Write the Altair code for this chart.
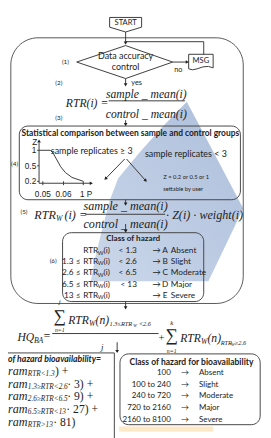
import altair as alt
import pandas as pd

# ---------------- content ----------------
hazard_prefix = ["", "1.3 ≤", "2.6 ≤", "6.5 ≤", "13 ≤"]
hazard_suffix = ["< 1.3", "< 2.6", "< 6.5", "<  13", ""]
hazard_letter = ["A", "B", "C", "D", "E"]
hazard_class = ["Absent", "Slight", "Moderate", "Major", "Severe"]
bio_range = ["100", "100 to  240", "240 to  720", "720 to 2160", "2160 to 8100"]
bio_sub = ["RTR<1.3", "1.3≥RTR<2.6", "2.6≥RTR<6.5", "6.5≥RTR<13", "RTR>13"]
bio_weight = [") +", "· 3) +", "· 9) +", "· 27) +", "· 81)"]
z_ticks = ["1", "0.5", "0.2"]
p_ticks = ["0.05", "0.06", "1 P"]

# ---------------- layout (diagram coordinates, px of the reference) ----------------
hz_y = [251, 262, 274, 286, 297]
bio_y = [378, 390, 402, 414, 426]
ram_y = [376, 389, 402, 415, 428]
ram_w_x = [50, 63, 63, 62, 48]
z_y = [148, 164, 180]
p_x = [37, 59, 83]

SANS = "Lato"
SERIF = "Liberation Serif"
ARIAL = "Liberation Sans"
INK = "#222222"
LINE = "#3a3a3a"

W, H = 263, 430
xs = alt.Scale(domain=[0, 271], nice=False, zero=False)
ys = alt.Scale(domain=[8, 438], nice=False, zero=False, reverse=True)


def X(f="x"):
    return alt.X(f"{f}:Q", scale=xs, axis=None)


def Y(f="y"):
    return alt.Y(f"{f}:Q", scale=ys, axis=None)


def txt(rows, size, font=SANS, align="center", weight="normal", style="normal", color=INK):
    df = pd.DataFrame(rows, columns=["t", "x", "y"])
    return alt.Chart(df).mark_text(
        font=font, fontSize=size, align=align, baseline="middle",
        fontWeight=weight, fontStyle=style, color=color
    ).encode(x=X(), y=Y(), text="t:N")


def boxes(rows, radius, color="#444444", sw=1.0):
    df = pd.DataFrame(rows, columns=["x", "y", "x2", "y2"])
    return alt.Chart(df).mark_rect(
        fill="transparent", stroke=color, strokeWidth=sw, cornerRadius=radius
    ).encode(x=X(), y=Y(), x2="x2:Q", y2="y2:Q")


# ---------------- background shapes ----------------
blue_x = [88, 93, 100, 108, 117, 140, 165, 190, 213, 250]
blue_top = [283, 257, 230, 200, 177, 150, 123, 98, 140, 208]
blue_bot = [283, 283, 283, 283, 283, 283, 283, 283, 283, 208]
blue = alt.Chart(pd.DataFrame({"x": blue_x, "y": blue_top, "y2": blue_bot})).mark_area(
    color=alt.Gradient(
        gradient="linear",
        stops=[alt.GradientStop(color="#a8bbd9", offset=0),
               alt.GradientStop(color="#c8d5e9", offset=1)],
        x1=1, x2=0, y1=0, y2=1),
    opacity=0.95, interpolate="linear"
).encode(x=X(), y=Y(), y2="y2:Q")

orange = alt.Chart(pd.DataFrame({"x": [118], "x2": [218], "y": [433], "y2": [438]})).mark_rect(
    color="#fde8c8"
).encode(x=X(), y=Y(), x2="x2:Q", y2="y2:Q")

# ---------------- boxes ----------------
big_box = boxes([(3, 32, 250, 306)], 28, "#555555")
mid_boxes = boxes([(12, 123, 247, 199), (58, 233, 208, 304), (119, 358, 268, 431)], 9)
sq_box = boxes([(-10, 357, 113, 460)], 0)

# ---------------- polylines ----------------
poly = []
def add_poly(name, pts):
    for i, (px, py) in enumerate(pts):
        poly.append({"id": name, "o": i, "x": px, "y": py})

add_poly("start", [(108, 11), (142, 11), (142, 21), (125, 26), (108, 21), (108, 11)])
add_poly("diamond", [(73, 57), (125, 40), (175, 57), (125, 74), (73, 57)])
add_poly("msg", [(192, 49), (218, 49), (218, 63), (213, 61.5), (207, 62), (201, 64),
                 (196, 65), (192, 64), (192, 49)])
add_poly("curve", [(33, 148), (45, 148), (48, 151), (52, 158), (56, 165), (61, 171),
                   (68, 176), (80, 180)])
polys = alt.Chart(pd.DataFrame(poly)).mark_line(color=LINE, strokeWidth=1).encode(
    x=X(), y=Y(), detail="id:N", order="o:Q")

# ---------------- straight segments ----------------
segs = [
    (125, 26, 125, 37), (125, 36, 208, 36), (208, 36, 208, 49),
    (175, 57, 190, 57), (125, 74, 125, 80), (125, 117, 125, 122),
    (124, 157, 104, 177), (126, 157, 146, 179),
    (33, 140, 33, 182), (33, 182, 88, 182),
    (31, 148, 33, 148), (31, 164, 33, 164), (31, 180, 33, 180),
    (37, 180, 37, 184), (59, 180, 59, 184), (80, 180, 80, 184),
    (125, 199, 125, 204), (125, 224, 125, 232),
    (107, 97, 188, 97), (82, 214, 167, 214), (47, 337, 160, 337),
    (125, 304, 125, 311), (116, 346, 116, 356),
]
rules = alt.Chart(pd.DataFrame(segs, columns=["x", "y", "x2", "y2"])).mark_rule(
    color=LINE, strokeWidth=1).encode(x=X(), y=Y(), x2="x2:Q", y2="y2:Q")

heads = [
    (125, 37, 180), (190, 57, 90), (125, 80, 180), (125, 121, 180),
    (104, 177, 226), (146, 179, 136), (33, 139, 0), (88, 182, 90),
    (125, 203, 180), (125, 231, 180), (125, 310, 180), (116, 355, 180),
]
arrowheads = alt.Chart(pd.DataFrame(heads, columns=["x", "y", "a"])).mark_point(
    shape="triangle", filled=True, size=14, color=INK, opacity=1).encode(
    x=X(), y=Y(), angle=alt.Angle("a:Q", scale=None))

# ---------------- texts ----------------
layers = [orange, blue, big_box, mid_boxes, sq_box, polys, rules, arrowheads]

layers.append(txt([("START", 125, 17), ("MSG", 205, 56)], 7.8))
layers.append(txt([("Data accuracy", 125, 51), ("control", 125, 62)], 9.2))
layers.append(txt([("sample replicates ≥ 3", 89, 149), ("sample replicates < 3", 189, 152)], 9.2))
layers.append(txt([("(1)", 61, 57), ("(2)", 54, 79), ("(3)", 54, 115), ("(4)", 7, 162),
                   ("(5)", 17, 212), ("(6)", 48, 262)], 6.5))
layers.append(txt([("no", 181, 65)], 7.5))
layers.append(txt([("yes", 131, 79)], 7.5, align="left"))
layers.append(txt([("Z = 0.2 or 0.5 or 1", 165, 176), ("settable by user", 165, 188)], 6, align="left"))
layers.append(txt([("Statistical comparison between sample and control groups", 130, 130)],
                  8.7, weight="bold"))
layers.append(txt([("Class of hazard", 133, 239)], 8.4, weight="bold"))
layers.append(txt([("Class of hazard for bioavailability", 195, 366)], 8.8, weight="bold"))

# mini plot labels
layers.append(txt([("Z", 31, 140)] + [(t, 30, v) for t, v in zip(z_ticks, z_y)], 8.5,
                  font=ARIAL, align="right"))
layers.append(txt([(t, v, 193) for t, v in zip(p_ticks, p_x)], 8.5, font=ARIAL))

# formula (2)
layers.append(txt([("RTR(i) =", 84, 99), ("sample _ mean(i)", 147, 90),
                   ("control _ mean(i)", 147, 111)], 12, font=SERIF, style="italic"))
# formula (5)
layers.append(txt([("RTR", 28, 215), ("(i) =", 60, 215), ("· Z(i) · weight(i)", 168, 215)],
                  12.5, font=SERIF, style="italic", align="left"))
layers.append(txt([("sample _ mean(i)", 125, 206), ("control _ mean(i)", 125, 224)],
                  12.5, font=SERIF, style="italic"))
layers.append(txt([("W", 51, 219)], 8, font=SERIF, style="italic", align="left"))

# hazard class rows
HZ = 8.5
layers.append(txt([(t, 77, v) for t, v in zip(hazard_prefix, hz_y)], HZ, align="right"))
layers.append(txt([("RTR", 80, v) for v in hz_y], HZ, align="left"))
layers.append(txt([("W", 95.5, v + 2.5) for v in hz_y], 5.8, align="left"))
layers.append(txt([("(i)", 101.5, v) for v in hz_y], HZ, align="left"))
layers.append(txt([(t, 137, v) for t, v in zip(hazard_suffix, hz_y)], HZ, align="right"))
layers.append(txt([("→", 158, v) for v in hz_y], HZ))
layers.append(txt([(t, 167, v) for t, v in zip(hazard_letter, hz_y)], HZ))
layers.append(txt([(t, 173, v) for t, v in zip(hazard_class, hz_y)], HZ, align="left"))

# HQ formula
layers.append(txt([("HQ", 10, 341), ("RTR", 64, 323), ("(n)", 93, 323),
                   ("RTR", 183, 342), ("(n)", 212, 342)], 12, font=SERIF, style="italic", align="left"))
layers.append(txt([("BA", 27.5, 345), ("W", 86, 327), ("W", 205, 346)], 8, font=SERIF,
                  style="italic", align="left"))
layers.append(txt([("=", 38, 340)], 12, font=SERIF, align="left"))
layers.append(txt([("+", 163, 342)], 11, font=SERIF))
layers.append(txt([("∑", 55, 320), ("∑", 174, 340)], 18, font=SERIF))
layers.append(txt([("j", 55, 305), ("k", 174, 326)], 7, font=SERIF, style="italic"))
layers.append(txt([("n=1", 55, 333), ("n=1", 174, 355)], 6, font=SERIF, style="italic"))
layers.append(txt([("j", 100, 351)], 9, font=SERIF, style="italic"))
layers.append(txt([("1.3≤RTR", 108, 327), ("<2.6", 139, 327), ("RTR", 226, 347),
                   ("≥2.6", 241, 347)], 6.5, font=SERIF, style="italic", align="left"))
layers.append(txt([("W", 133, 329), ("W", 237, 349)], 4.5, font=SERIF, style="italic", align="left"))

# bioavailability class box
BZ = 8.2
layers.append(txt([(t, 173, v) for t, v in zip(bio_range, bio_y)], BZ, align="right"))
layers.append(txt([("→", 188, v) for v in bio_y], BZ))
layers.append(txt([(t, 203, v) for t, v in zip(hazard_class, bio_y)], BZ, align="left"))

# left (cut) box
layers.append(txt([("of hazard bioavailability=", 0, 363)], 9, weight="bold", style="italic",
                  align="left"))
layers.append(txt([("ram", 0, v) for v in ram_y], 12.5, font=SERIF, style="italic", align="left"))
layers.append(txt([(t, 21, v + 3) for t, v in zip(bio_sub, ram_y)], 7.5, font=SERIF,
                  style="italic", align="left"))
layers.append(txt([(t, xx, v) for t, xx, v in zip(bio_weight, ram_w_x, ram_y)], 12, font=SERIF,
                  align="left"))

chart = alt.layer(*layers).properties(
    width=W, height=H, padding=0, autosize=alt.AutoSizeParams(type="none")
).configure_view(stroke=None)

chart.save("out.html", embed_options={"renderer": "svg", "actions": False})
